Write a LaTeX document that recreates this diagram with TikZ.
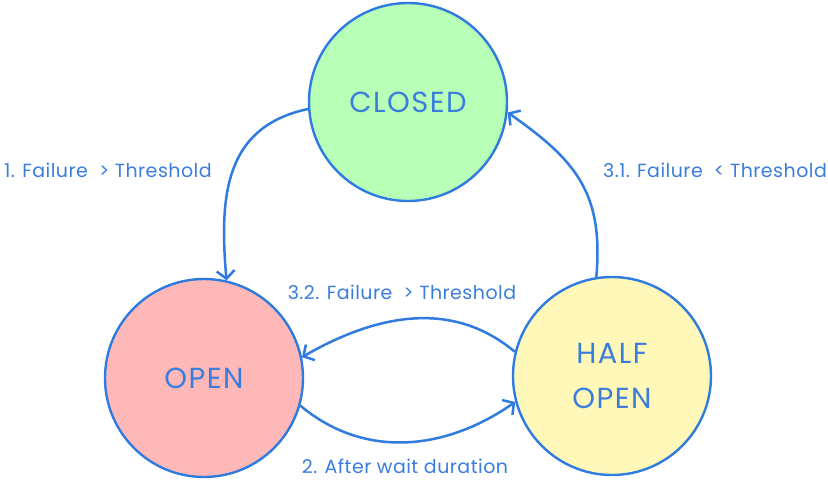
\documentclass[tikz,border=0pt]{standalone}
\usepackage{fontspec}
\setmainfont{Poppins}
\usepackage{tikz}
\usetikzlibrary{arrows.meta,backgrounds}
\definecolor{edgeblue}{HTML}{2F7BE0}
\definecolor{textblue}{HTML}{3A7DDC}
\definecolor{closedfill}{HTML}{B8FFB8}
\definecolor{openfill}{HTML}{FFB8B8}
\definecolor{halffill}{HTML}{FFF8B8}

\begin{document}
\begin{tikzpicture}[x=1pt,y=1pt,
  state/.style={circle,draw=edgeblue,line width=2.4pt,minimum size=198pt,inner sep=0pt,
    text=textblue,font=\fontsize{29}{45}\selectfont\addfontfeatures{LetterSpace=5},align=center},
  trans/.style={draw=edgeblue,line width=2.5pt,-{Straight Barb[length=8pt,width=18pt]}},
  lbl/.style={text=textblue,font=\fontsize{19}{20}\selectfont\addfontfeatures{LetterSpace=2.5},inner sep=0pt}]
\useasboundingbox (0,0) rectangle (828,-480);
% the three states
\node[state,fill=closedfill] (closed) at (408,-102) {CLOSED};
\node[state,fill=openfill] (open) at (204,-378) {OPEN};
\node[state,fill=halffill] (half) at (612,-376) {HALF\\OPEN};
% transitions
\draw[trans] (closed.184) to[out=192,in=95,looseness=1.15] (open.77);
\draw[trans] (open.-16) to[out=-40,in=215] (half.195);
\draw[trans] (half.166) to[out=140,in=30] (open.12);
\draw[trans] (half.99) to[out=85,in=-35,looseness=1.15] (closed.-6);
% labels
\node[lbl] (l1) at (108,-170) {1. Failure\ \ > Threshold};
\node[lbl] (l2) at (405,-466) {2. After wait duration};
\node[lbl] (l31) at (715,-170) {3.1. Failure\ \ < Threshold};
\node[lbl] (l32) at (402,-292) {3.2. Failure\ \ > Threshold};
\end{tikzpicture}
\end{document}
